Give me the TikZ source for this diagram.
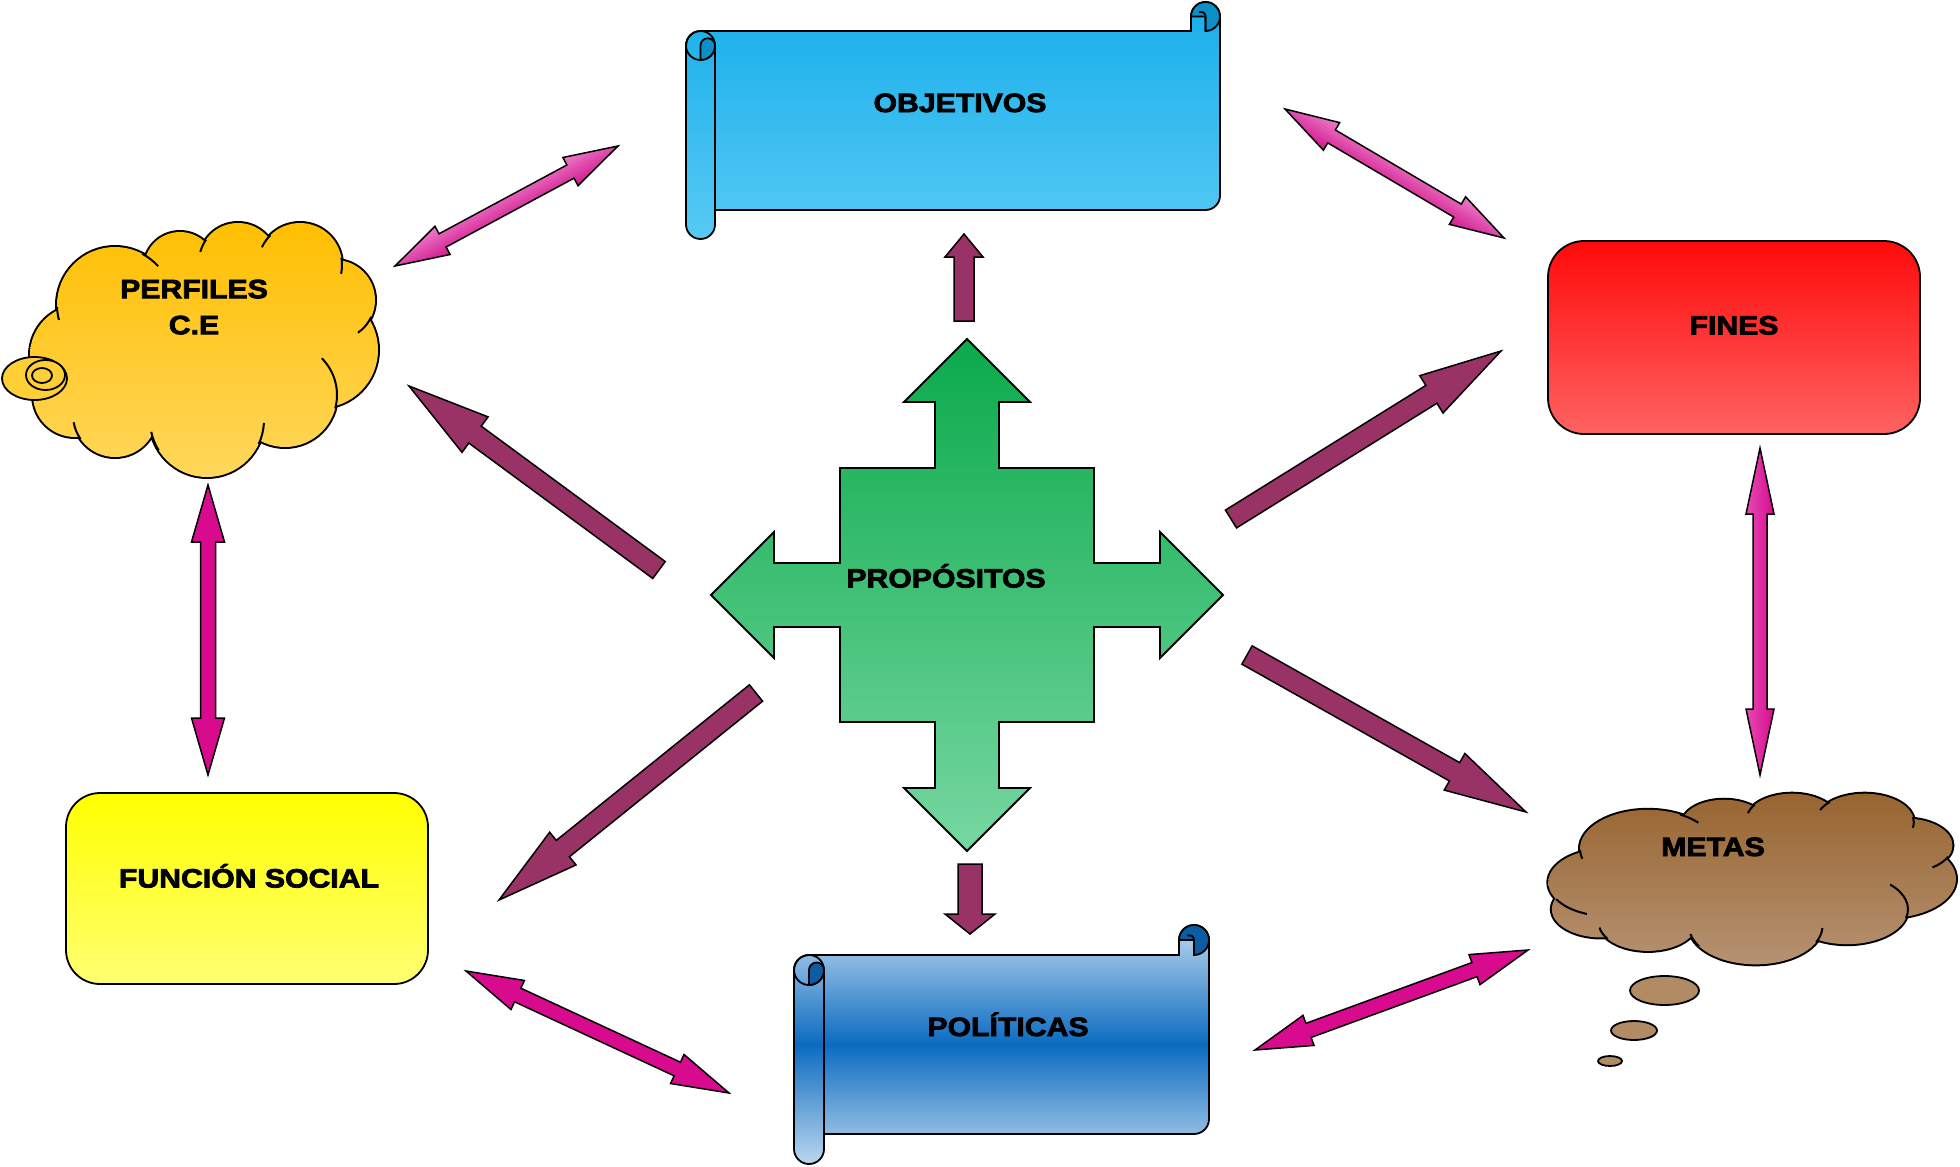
\documentclass[tikz,border=0pt]{standalone}
\usepackage{fontspec}
\newfontfamily\heavy{Liberation Sans}[FakeStretch=1.14,FakeBold=3]
\usetikzlibrary{calc}

\definecolor{perfTop}{HTML}{FFBF00}
\definecolor{perfBot}{HTML}{FFD75C}
\definecolor{perfTail}{HTML}{FFCF38}
\definecolor{metTop}{HTML}{97642F}
\definecolor{metBot}{HTML}{B69272}
\definecolor{bub}{HTML}{B18B63}
\definecolor{objTop}{HTML}{18AEEB}
\definecolor{objBot}{HTML}{57CAF4}
\definecolor{objDark}{HTML}{0A8FC8}
\definecolor{polLight}{HTML}{BDD7EE}
\definecolor{polMid}{HTML}{0B6BC1}
\definecolor{polDark}{HTML}{0B5CA3}
\definecolor{finTop}{HTML}{FF0A0A}
\definecolor{finBot}{HTML}{FF6262}
\definecolor{funTop}{HTML}{FFFF00}
\definecolor{funBot}{HTML}{FFFF73}
\definecolor{propTop}{HTML}{0BAA4B}
\definecolor{propBot}{HTML}{77D7A2}
\definecolor{mag}{HTML}{D80B8F}
\definecolor{magdark}{HTML}{D3168D}
\definecolor{maglight}{HTML}{EF8CD1}
\definecolor{magL}{HTML}{E64BB2}
\definecolor{plum}{HTML}{993366}

\tikzset{
  lbl/.style={font=\heavy\bfseries\fontsize{26.5}{36}\selectfont, inner sep=0pt, anchor=base, text=black},
  shapeline/.style={draw=black, line width=1.8pt},
  arrowline/.style={draw=black, line width=1.5pt},
}

% cloud outline made of overlapping bumps (drawn in the PERFILES frame)
\def\cloudcircles{(80,355) circle[radius=50] (115,305) circle[radius=58]
  (180,268) circle[radius=36] (238,262) circle[radius=39] (300,265) circle[radius=42]
  (335,300) circle[radius=40] (320,350) circle[radius=58] (285,395) circle[radius=52]
  (207,420) circle[radius=57] (115,415) circle[radius=42] (75,395) circle[radius=42]
  (210,345) circle[radius=100]}
\newcommand{\iarc}[4]{\draw[line width=2pt] ([shift={(#1)}]#2:#4) arc[start angle=#2, end angle=#3, radius=#4];}
\newcommand{\cloudshape}[2]{%
  \path[draw=black, line width=4pt] \cloudcircles;
  \begin{scope}
    \clip \cloudcircles;
    \shade[top color=#1, bottom color=#2] (28,219) rectangle (378,478);
  \end{scope}
  \iarc{115,305}{-62}{-42}{58}
  \iarc{238,262}{-145}{-165}{39}
  \iarc{300,265}{-135}{-155}{42}
  \iarc{300,265}{-10}{12}{42}
  \iarc{335,300}{25}{55}{40}
  \iarc{285,395}{15}{-45}{52}
  \iarc{207,420}{25}{3}{57}
  \iarc{207,420}{168}{148}{57}
  \iarc{115,415}{145}{170}{42}
  \iarc{115,305}{178}{165}{58}
}

% horizontal scroll: #1 X0, #2 X1, #3 Y0, #4 Y1, #5 curl radius, #6 shading, #7 curl colour
\newcommand{\scrollshape}[7]{%
  \path[shapeline, #6]
    (#1+#5, #3+2*#5) -- (#2-2*#5, #3+2*#5) -- (#2-2*#5, #3+#5)
    arc[start angle=180, end angle=360, radius=#5]
    -- (#2, #4-3*#5)
    arc[start angle=0, end angle=90, radius=#5]
    -- (#1+2*#5, #4-2*#5) -- (#1+2*#5, #4-#5)
    arc[start angle=0, end angle=180, radius=#5]
    -- (#1, #3+3*#5)
    arc[start angle=180, end angle=270, radius=#5] -- cycle;
  \draw[shapeline] (#1+2*#5, #3+3*#5) -- (#1+2*#5, #4-2*#5);
  \draw[shapeline] (#1+#5, #3+3*#5) circle[radius=#5];
  \path[shapeline, fill=#7] (#1+#5, #3+4*#5) -- (#1+#5, #3+3*#5)
    arc[start angle=180, end angle=360, radius=#5/2]
    arc[start angle=0, end angle=90, radius=#5] -- cycle;
  \path[shapeline, fill=#7] (#2-#5, #3+#5) -- (#2-2*#5, #3+#5)
    arc[start angle=180, end angle=450, radius=#5] -- cycle;
  \draw[shapeline] (#2-#5, #3+2*#5) -- (#2-#5, #3+#5)
    arc[start angle=0, end angle=-110, radius=#5/3];
}

% block arrow outlines
\newcommand{\twoarrowpts}[5]{%
  \coordinate (ha) at ($(#1)!#5!(#2)$);
  \coordinate (hb) at ($(#2)!#5!(#1)$);
  \coordinate (q1) at ($(ha)!#4!90:(#2)$);
  \coordinate (q2) at ($(ha)!#3!90:(#2)$);
  \coordinate (q3) at ($(hb)!#3!90:(#2)$);
  \coordinate (q4) at ($(hb)!#4!90:(#2)$);
  \coordinate (q5) at ($(hb)!#4!-90:(#2)$);
  \coordinate (q6) at ($(hb)!#3!-90:(#2)$);
  \coordinate (q7) at ($(ha)!#3!-90:(#2)$);
  \coordinate (q8) at ($(ha)!#4!-90:(#2)$);
}
\def\twoarrowpath#1#2{(#1) -- (q1) -- (q2) -- (q3) -- (q4) -- (#2) -- (q5) -- (q6) -- (q7) -- (q8) -- cycle}
\newcommand{\onearrowpts}[5]{%
  \coordinate (hb) at ($(#2)!#5!(#1)$);
  \coordinate (q1) at ($(#1)!#3!90:(#2)$);
  \coordinate (q2) at ($(hb)!#3!90:(#2)$);
  \coordinate (q3) at ($(hb)!#4!90:(#2)$);
  \coordinate (q4) at ($(hb)!#4!-90:(#2)$);
  \coordinate (q5) at ($(hb)!#3!-90:(#2)$);
  \coordinate (q6) at ($(#1)!#3!-90:(#2)$);
}
\def\onearrowpath#1{(q1) -- (q2) -- (q3) -- (#1) -- (q4) -- (q5) -- (q6) -- cycle}
% colour bands across an arrow, dark on one side, light on the other
\newcommand{\gradstrips}[4]{%
  \foreach \k in {0,...,11}{
    \pgfmathsetmacro\off{-16.5+3*\k}
    \pgfmathsetmacro\mixv{100-\k*8}
    \draw[line width=3.4pt, draw=#3!\mixv!#4] ($(#1)!\off pt!90:(#2)$) -- ($(#2)!\off pt!-90:(#1)$);
  }
}

\begin{document}
\begin{tikzpicture}[x=1pt, y=-1pt, line join=miter]
\useasboundingbox (0,0) rectangle (1960,1167);
\fill[white] (0,0) rectangle (1960,1167);

% ---- PERFILES cloud with its callout rings
\cloudshape{perfTop}{perfBot}
\path[shapeline, fill=perfTail] (34.5,378.5) ellipse[x radius=32.5, y radius=21.5];
\path[shapeline, fill=perfTail] (45.5,375) ellipse[x radius=19.5, y radius=15];
\draw[shapeline] (42,375.5) ellipse[x radius=10, y radius=7.5];
\node[lbl, anchor=north, align=center] (perf) at (194,279.5) {PERFILES\\C.E};

% ---- METAS cloud with its thought bubbles
\begin{scope}[shift={(1546,791)}, xscale=1.1714, yscale=0.6718, shift={(-28,-219)}]
  \cloudshape{metTop}{metBot}
  \iarc{80,355}{150}{110}{50}
\end{scope}
\path[shapeline, fill=bub] (1664.5,990.5) ellipse[x radius=34.5, y radius=14.5];
\path[shapeline, fill=bub] (1634,1030.5) ellipse[x radius=23, y radius=9.5];
\path[shapeline, fill=bub] (1610,1061) ellipse[x radius=12, y radius=5];
\node[lbl] (metas) at (1713,856) {METAS};

% ---- scrolls
\scrollshape{686}{1220}{2}{239}{14.5}{top color=objTop, bottom color=objBot}{objDark}
\node[lbl] (obj) at (960,112) {OBJETIVOS};
\scrollshape{794}{1209}{925}{1164}{15}{top color=polLight, bottom color=polLight, middle color=polMid}{polDark}
\node[lbl] (pol) at (1008,1036) {POLÍTICAS};

% ---- rounded boxes
\path[shapeline, rounded corners=36pt, top color=finTop, bottom color=finBot] (1548,241) rectangle (1920,434);
\node[lbl] (fines) at (1734,334.5) {FINES};
\path[shapeline, rounded corners=34pt, top color=funTop, bottom color=funBot] (66,793) rectangle (428,984);
\node[lbl] (func) at (249,887.5) {FUNCIÓN SOCIAL};

% ---- central four-way arrow
\begin{scope}[shift={(967,595)}]
\path[shapeline, top color=propTop, bottom color=propBot]
 (0,-256) -- (63,-193) -- (32,-193) -- (32,-127) -- (127,-127) -- (127,-32) -- (193,-32) -- (193,-63)
 -- (256,0) -- (193,63) -- (193,32) -- (127,32) -- (127,127) -- (32,127) -- (32,193) -- (63,193)
 -- (0,256) -- (-63,193) -- (-32,193) -- (-32,127) -- (-127,127) -- (-127,32) -- (-193,32) -- (-193,63)
 -- (-256,0) -- (-193,-63) -- (-193,-32) -- (-127,-32) -- (-127,-127) -- (-32,-127) -- (-32,-193) -- (-63,-193) -- cycle;
\end{scope}
\node[lbl] (prop) at (946,587.5) {PROPÓSITOS};

% ---- connector end points
\coordinate (ap1) at (395,266);   \coordinate (ap2) at (618,146);
\coordinate (bo1) at (1285,109);  \coordinate (bo2) at (1504,238);
\coordinate (cp1) at (208,485);   \coordinate (cp2) at (208,775);
\coordinate (df1) at (1760,448);  \coordinate (df2) at (1760,775);
\coordinate (ef1) at (466,971);   \coordinate (ef2) at (729,1093);
\coordinate (fp1) at (1255,1050); \coordinate (fp2) at (1528,950);
\coordinate (u1) at (964,321);    \coordinate (u2) at (964,234);
\coordinate (pp1) at (659,570);   \coordinate (pp2) at (409,386);
\coordinate (pf1) at (1231,519);  \coordinate (pf2) at (1501,351);
\coordinate (ps1) at (756,693);   \coordinate (ps2) at (499,900);
\coordinate (pm1) at (1247,655);  \coordinate (pm2) at (1526,812);
\coordinate (dn1) at (970,864);   \coordinate (dn2) at (970,934);

% ---- two-headed links
\twoarrowpts{ap1}{ap2}{7.5pt}{16pt}{54pt}
\begin{scope}\clip \twoarrowpath{ap1}{ap2}; \gradstrips{ap1}{ap2}{magdark}{maglight}\end{scope}
\path[arrowline] \twoarrowpath{ap1}{ap2};

\twoarrowpts{bo1}{bo2}{7.5pt}{16pt}{54pt}
\begin{scope}\clip \twoarrowpath{bo1}{bo2}; \gradstrips{bo1}{bo2}{magdark}{maglight}\end{scope}
\path[arrowline] \twoarrowpath{bo1}{bo2};

\twoarrowpts{cp1}{cp2}{7.5pt}{16.5pt}{57pt}
\path[arrowline, fill=mag] \twoarrowpath{cp1}{cp2};

\twoarrowpts{df1}{df2}{7pt}{14pt}{66pt}
\path[arrowline, left color=magL, right color=mag] \twoarrowpath{df1}{df2};

\twoarrowpts{ef1}{ef2}{7.5pt}{16pt}{57pt}
\path[arrowline, fill=mag] \twoarrowpath{ef1}{ef2};

\twoarrowpts{fp1}{fp2}{7.5pt}{16pt}{57pt}
\path[arrowline, fill=mag] \twoarrowpath{fp1}{fp2};

% ---- one-headed links from the centre
\onearrowpts{u1}{u2}{10pt}{19pt}{23pt}
\path[arrowline, fill=plum] \onearrowpath{u2};
\onearrowpts{pp1}{pp2}{10.5pt}{22pt}{82pt}
\path[arrowline, fill=plum] \onearrowpath{pp2};
\onearrowpts{pf1}{pf2}{10.5pt}{22pt}{82pt}
\path[arrowline, fill=plum] \onearrowpath{pf2};
\onearrowpts{ps1}{ps2}{10.5pt}{21pt}{82pt}
\path[arrowline, fill=plum] \onearrowpath{ps2};
\onearrowpts{pm1}{pm2}{10.5pt}{21pt}{82pt}
\path[arrowline, fill=plum] \onearrowpath{pm2};
\onearrowpts{dn1}{dn2}{12pt}{25pt}{20pt}
\path[arrowline, fill=plum] \onearrowpath{dn2};

\end{tikzpicture}
\end{document}
